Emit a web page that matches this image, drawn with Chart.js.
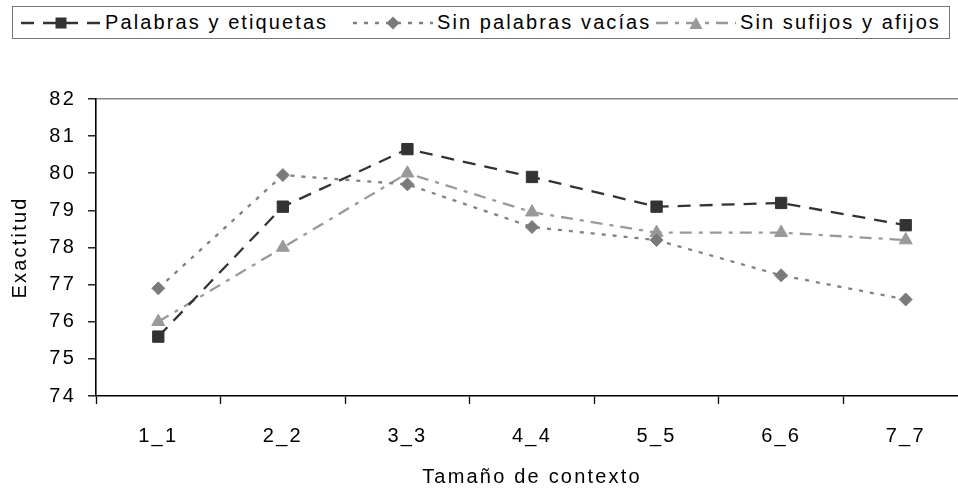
<!DOCTYPE html>
<html>
<head>
<meta charset="utf-8">
<script src="https://cdn.jsdelivr.net/npm/chart.js@4.4.1/dist/chart.umd.min.js"></script>
<style>
  html, body { margin: 0; padding: 0; background: #fff; overflow: hidden; }
  #wrap { position: relative; width: 980px; height: 491px; }
  #legend {
    position: absolute; left: 12px; top: 6px; width: 938px; height: 33px;
    border: 1.5px solid #777; box-sizing: border-box; background: #fff;
    font-family: "Liberation Sans", Arial, sans-serif; font-size: 20px;
    letter-spacing: 2.1px; color: #000;
  }
  .item { position: absolute; top: 0; height: 31px; display: flex; align-items: center; white-space: nowrap; }
  .item svg { margin-right: 4px; }
</style>
</head>
<body>
<div id="wrap">
  <canvas id="myChart"></canvas>
  <div id="legend"></div>
</div>
<script>
// categorías y series
const labels = ['1_1', '2_2', '3_3', '4_4', '5_5', '6_6', '7_7'];
const palabras = [75.6, 79.1, 80.65, 79.9, 79.1, 79.2, 78.6];
const sinVacias = [76.9, 79.95, 79.7, 78.55, 78.2, 77.25, 76.6];
const sinSufijos = [76.0, 78.0, 80.0, 78.95, 78.4, 78.4, 78.2];
const seriesNames = ['Palabras y etiquetas', 'Sin palabras vacías', 'Sin sufijos y afijos'];
const yMin = 74, yMax = 82;

const FONT = { family: '"Liberation Sans", Arial, sans-serif', size: 20 };

// Excel stretched text: spread letters a little
const spacing = {
    id: 'spacing',
    beforeLayout(chart) { chart.ctx.letterSpacing = '2.2px'; },
    beforeDraw(chart) { chart.ctx.letterSpacing = '2.2px'; }
};

const datasets = [
    {
        label: seriesNames[0], data: palabras,
        borderColor: '#333333', backgroundColor: '#333333',
        borderWidth: 2.3, borderDash: [13, 9],
        pointStyle: 'rect', pointRadius: 8, pointBorderWidth: 1
    },
    {
        label: seriesNames[1], data: sinVacias,
        borderColor: '#808080', backgroundColor: '#7a7a7a',
        borderWidth: 2.3, borderDash: [4, 7],
        pointStyle: 'rectRot', pointRadius: 6.5, pointBorderWidth: 1
    },
    {
        label: seriesNames[2], data: sinSufijos,
        borderColor: '#999999', backgroundColor: '#999999',
        borderWidth: 2.3, borderDash: [12, 7, 4, 7],
        pointStyle: 'triangle', pointRadius: 7.5, pointBorderWidth: 1
    }
];

new Chart(document.getElementById('myChart'), {
    type: 'line',
    data: { labels: labels, datasets: datasets },
    options: {
        responsive: true,
        maintainAspectRatio: false,
        animation: false,
        layout: { padding: { top: 99, right: 12, left: 0, bottom: 0 } },
        plugins: { legend: { display: false }, tooltip: { enabled: false } },
        scales: {
            x: {
                offset: true,
                grid: { offset: true, color: 'transparent', tickColor: '#000', tickLength: 8, tickWidth: 1.3 },
                border: { color: '#000', width: 1.6 },
                ticks: { color: '#000', font: FONT, padding: 20, maxRotation: 0 },
                title: { display: true, text: 'Tamaño de contexto', color: '#000', font: FONT, padding: 2 },
                afterFit(s) { s.height = 95; }
            },
            y: {
                min: yMin, max: yMax,
                ticks: { stepSize: 1, color: '#000', font: FONT, padding: 12 },
                grid: {
                    color: (c) => (c.tick && c.tick.value === yMax ? '#888' : 'transparent'),
                    lineWidth: 1.6,
                    tickColor: '#000', tickLength: 8, tickWidth: 1.3
                },
                border: { color: '#000', width: 1.6 },
                title: { display: true, text: 'Exactitud', color: '#000', font: FONT, padding: { top: 8, bottom: 0 } },
                afterFit(s) { s.width = 96; }
            }
        }
    },
    plugins: [spacing]
});

// leyenda en HTML con muestra de línea y marcador
const legendPos = [20, 352, 655];
const markers = [
    '<rect x="34.5" y="1.5" width="11" height="11" fill="#333333"/>',
    '<polygon points="40,0.5 46.5,7 40,13.5 33.5,7" fill="#7a7a7a"/>',
    '<polygon points="40,1 46.5,13 33.5,13" fill="#999999"/>'
];
const legend = document.getElementById('legend');
datasets.forEach((ds, i) => {
    const item = document.createElement('div');
    item.className = 'item';
    item.style.left = (legendPos[i] - 12) + 'px';
    item.innerHTML =
        '<svg width="80" height="14"><line x1="0" y1="7" x2="80" y2="7" stroke="' + ds.borderColor +
        '" stroke-width="2.3" stroke-dasharray="' + ds.borderDash.join(' ') + '"/>' + markers[i] + '</svg>' +
        '<span>' + ds.label + '</span>';
    legend.appendChild(item);
});
</script>
</body>
</html>
